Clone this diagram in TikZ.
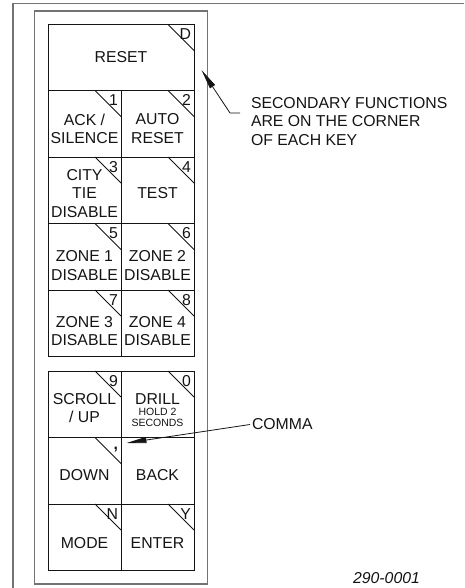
\documentclass[tikz,border=0pt]{standalone}
\usepackage{fontspec}
\setmainfont{Liberation Sans}
\usetikzlibrary{positioning,fit,arrows.meta}
\definecolor{linecolor}{RGB}{20,20,20}
\definecolor{framecolor}{RGB}{115,115,115}
\newcommand{\keyfont}{\fontsize{15.8}{18.5}\selectfont}
\newcommand{\smallkeyfont}{\fontsize{10.5}{11}\selectfont}

\begin{document}
\begin{tikzpicture}[%
    x=1pt, y=-1pt,              % pixel grid, y grows downwards
    >={Triangle[length=20pt,width=6pt]},
    node distance=0pt,          % keys touch each other
    ]
\tikzset{
  base/.style={inner sep=0pt, outer sep=0pt},
  key/.style={base, rectangle, draw=linecolor, line width=0.9pt, minimum width=73pt, minimum height=66.5pt},
  wide/.style={key, minimum width=146pt, minimum height=66pt},
  caption/.style={base, align=center, font=\keyfont, text=linecolor},
  corner/.style={base, anchor=north east, font=\keyfont, text=linecolor, text height=11pt, text depth=0pt},
  note/.style={base, align=left, font=\keyfont, text=linecolor},
  frame/.style={draw=framecolor, line width=1.1pt},
  slash/.style={draw=linecolor, line width=0.8pt},
  leader/.style={draw=linecolor, line width=0.8pt, ->},
}
\useasboundingbox (0,0) rectangle (464,588);

% outer frame
\draw [frame] (464,3.5) -| (13,588);

% keys, upper block
\node [wide,anchor=north west] (kreset) at (48,24.5) {};
\node [key,anchor=north west] (k1) at (kreset.south west) {};
\node [key,right=of k1] (k2) {};
\node [key,below=of k1] (k3) {};
\node [key,right=of k3] (k4) {};
\node [key,below=of k3] (k5) {};
\node [key,right=of k5] (k6) {};
\node [key,below=of k5] (k7) {};
\node [key,right=of k7] (k8) {};

% keys, lower block
\node [key,below=14.5pt of k7] (k9) {};
\node [key,right=of k9] (k10) {};
\node [key,below=of k9] (k11) {};
\node [key,right=of k11] (k12) {};
\node [key,below=of k11] (k13) {};
\node [key,right=of k13] (k14) {};

% panel round the keys
\node [frame,base,inner sep=13.5pt,fit=(kreset)(k13)(k14)] (panel) {};

% key captions
\node [caption] (treset) at (kreset.center) {RESET};
\node [caption] (t1) at ([yshift=-5pt]k1.center) {ACK /\\SILENCE};
\node [caption] (t2) at ([yshift=-5pt]k2.center) {AUTO\\RESET};
\node [caption] (t3) at ([yshift=-3pt]k3.center) {CITY\\TIE\\DISABLE};
\node [caption] (t4) at ([yshift=-3pt]k4.center) {TEST};
\node [caption] (t5) at ([yshift=-9pt]k5.center) {ZONE 1\\DISABLE};
\node [caption] (t6) at ([yshift=-9pt]k6.center) {ZONE 2\\DISABLE};
\node [caption] (t7) at ([yshift=-8pt]k7.center) {ZONE 3\\DISABLE};
\node [caption] (t8) at ([yshift=-8pt]k8.center) {ZONE 4\\DISABLE};
\node [caption] (t9) at ([yshift=-4pt]k9.center) {SCROLL\\/ UP};
\node [caption] (t10) at ([yshift=-6pt]k10.center) {DRILL\\[-7.5pt]{\smallkeyfont HOLD 2}\\[-7pt]{\smallkeyfont SECONDS}};
\node [caption] (t11) at ([yshift=-4pt]k11.center) {DOWN};
\node [caption] (t12) at ([yshift=-4pt]k12.center) {BACK};
\node [caption] (t13) at ([yshift=-6pt]k13.center) {MODE};
\node [caption] (t14) at ([yshift=-6pt]k14.center) {ENTER};

% secondary functions on the corners
\foreach \k/\c in {kreset/D, k1/1, k2/2, k3/3, k4/4, k5/5, k6/6, k7/7, k8/8,
                   k9/9, k10/0, k11/{\bfseries\raisebox{3pt}{,}}, k13/N, k14/Y}{
  \draw [slash] ([xshift=-26pt]\k.north east) -- ([yshift=-26pt]\k.north east);
  \node [corner] (c\k) at ([xshift=-3pt,yshift=-4pt]\k.north east) {\c};
}

% notes
\node [note,anchor=north west] (secnote) at (251,97) {SECONDARY FUNCTIONS\\ARE ON THE CORNER\\OF EACH KEY};
\node [note,anchor=west] (commanote) at (252,424.5) {COMMA};
\node [note,font=\keyfont\itshape] (dwgno) at (386.5,578) {290-0001};

% connect
\coordinate (sectip) at (201.5,70);
\coordinate (commatip) at (126.5,443);
\draw [leader] (secnote.north west) ++(-11pt,-16pt) -- ++(-10pt,0) -- (sectip);
\draw [leader] (commanote.west) ++(-2pt,0) -- (commatip);

\end{tikzpicture}
\end{document}
